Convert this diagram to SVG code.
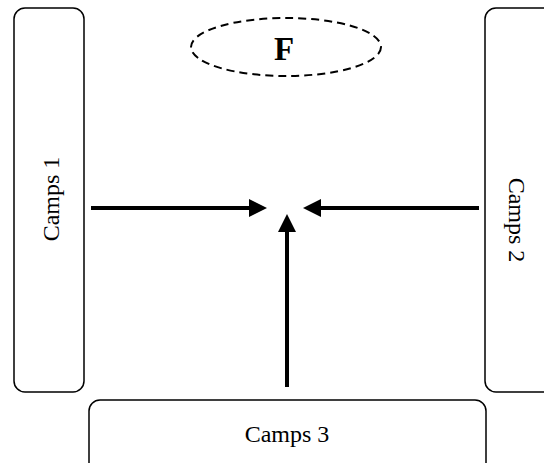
<svg xmlns="http://www.w3.org/2000/svg" width="544" height="463" viewBox="0 0 544 463">
<style>
.box{fill:#fff;stroke:#000;stroke-width:1.5}
.lbl{font-family:"Liberation Serif","Times New Roman",serif;font-size:24px;fill:#000;text-anchor:middle}
.conn{stroke:#000;stroke-width:4;fill:none}
</style>
<defs>
<marker id="ah" markerWidth="4.5" markerHeight="4.5" refX="0" refY="2.25" orient="auto" markerUnits="strokeWidth" viewBox="0 0 4.5 4.5">
<path d="M0,0 L4.5,2.25 L0,4.5 Z" fill="#000"/>
</marker>
</defs>
<rect width="544" height="463" fill="#fff"/>
<g id="camps1">
<rect class="box" x="14" y="8" width="70" height="384" rx="11"/>
<text class="lbl" transform="translate(59,199) rotate(-90)">Camps 1</text>
</g>
<g id="camps2">
<rect class="box" x="485" y="8" width="80" height="384" rx="11"/>
<text class="lbl" transform="translate(509,220) rotate(90)">Camps 2</text>
</g>
<g id="camps3">
<rect class="box" x="89" y="400" width="397" height="75" rx="11"/>
<text class="lbl" x="287" y="442">Camps 3</text>
</g>
<g id="F">
<ellipse cx="286" cy="47" rx="95" ry="29" fill="none" stroke="#000" stroke-width="2" stroke-dasharray="8,5"/>
<text x="284" y="60" font-family="'Liberation Serif','Times New Roman',serif" font-size="33" font-weight="bold" text-anchor="middle">F</text>
</g>
<g id="connectors">
<line class="conn" x1="91" y1="208" x2="249" y2="208" marker-end="url(#ah)"/>
<line class="conn" x1="479" y1="208" x2="321" y2="208" marker-end="url(#ah)"/>
<line class="conn" x1="287" y1="387" x2="287" y2="232" marker-end="url(#ah)"/>
</g>
</svg>
